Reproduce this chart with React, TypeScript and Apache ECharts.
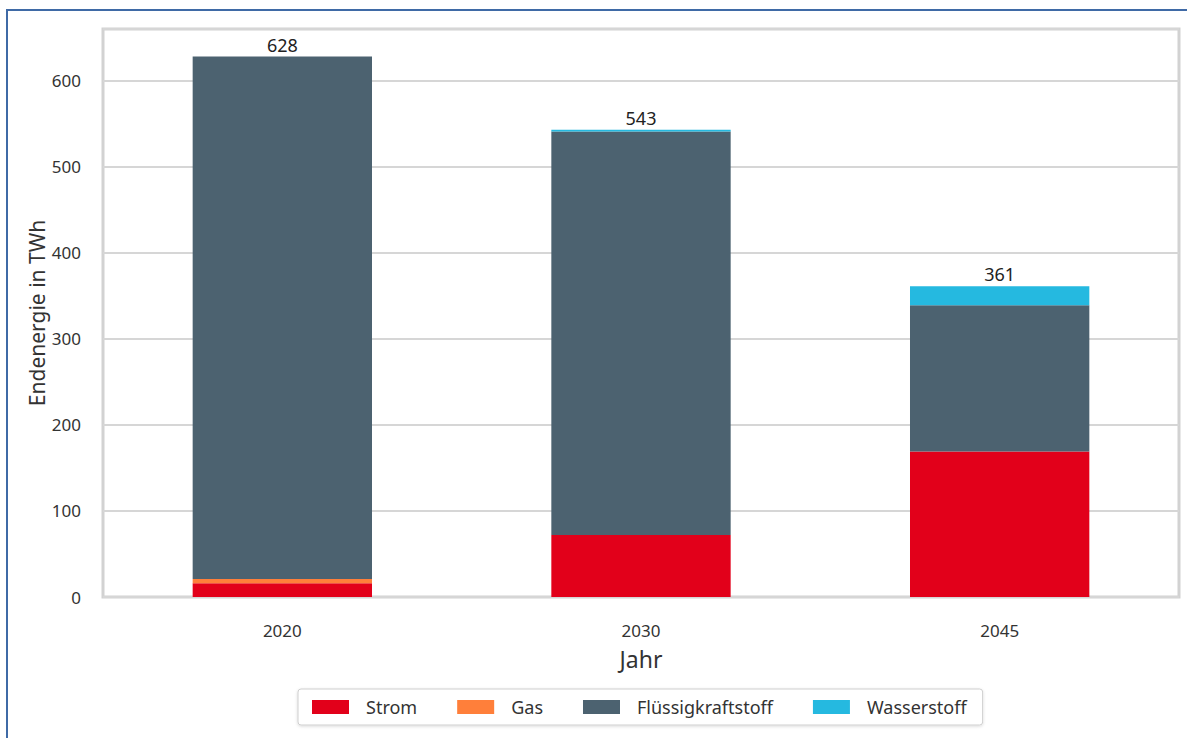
import React, { useEffect, useRef } from "react";
import * as echarts from "echarts";

const categories = ["2020", "2030", "2045"];
const strom = [16, 72, 169];
const gas = [5, 0, 0];
const fluessig = [607, 469, 170];
const wasserstoff = [0, 2, 22];
const totals = [628, 543, 361];
const yTicks = [0, 100, 200, 300, 400, 500, 600];

const FONT = "'Noto Sans', sans-serif";

export default function App() {
  const ref = useRef<HTMLDivElement>(null);
  useEffect(() => {
    if (!ref.current) return;
    const chart = echarts.init(ref.current, null, { renderer: "svg" });
    const barW = "50%";
    chart.setOption({
      animation: false,
      backgroundColor: "#ffffff",
      textStyle: { fontFamily: FONT },
      graphic: [
        {
          type: "rect",
          shape: { x: 7, y: 10, width: 1240, height: 800 },
          style: { fill: "none", stroke: "#3f6aa6", lineWidth: 2 },
          silent: true,
          z: -1,
        },
      ],
      grid: { left: 103, right: 8, top: 29, bottom: 141, show: true, borderColor: "#d2d2d2", borderWidth: 3 },
      legend: {
        left: 298,
        top: 689,
        itemWidth: 37,
        itemHeight: 14,
        itemGap: 40,
        padding: [9, 16, 9, 14],
        borderColor: "#cfcfcf",
        borderWidth: 1,
        borderRadius: 3,
        shadowColor: "rgba(0,0,0,0.15)",
        shadowBlur: 3,
        shadowOffsetY: 1,
        backgroundColor: "#fff",
        icon: "rect",
        textStyle: { fontSize: 18, color: "#333", fontFamily: FONT, padding: [0, 0, 0, 12] },
        data: ["Strom", "Gas", "Flüssigkraftstoff", "Wasserstoff"],
      },
      xAxis: {
        type: "category",
        data: categories,
        name: "Jahr",
        nameLocation: "middle",
        nameGap: 50,
        nameTextStyle: { fontSize: 23, color: "#333", fontFamily: FONT },
        axisLine: { show: false },
        axisTick: { show: false },
        axisLabel: { fontSize: 17, color: "#333", margin: 25, fontFamily: FONT },
      },
      yAxis: {
        type: "value",
        min: 0,
        max: 660,
        interval: 100,
        name: "Endenergie in TWh",
        nameLocation: "middle",
        nameGap: 56,
        nameMoveOverlap: false,
        nameTextStyle: { fontSize: 21, color: "#333", fontFamily: FONT },
        axisLine: { show: false },
        axisTick: { show: false },
        axisLabel: {
          fontSize: 17,
          color: "#333",
          margin: 22,
          fontFamily: FONT,
          showMaxLabel: false,
          formatter: (v: number) => (yTicks.includes(v) ? String(v) : ""),
        },
        splitLine: { lineStyle: { color: "#d6d6d6", width: 2 } },
      },
      series: [
        { name: "Strom", type: "bar", stack: "t", data: strom, barWidth: barW, itemStyle: { color: "#e2001a" } },
        { name: "Gas", type: "bar", stack: "t", data: gas, barWidth: barW, itemStyle: { color: "#ff7f3a" } },
        { name: "Flüssigkraftstoff", type: "bar", stack: "t", data: fluessig, barWidth: barW, itemStyle: { color: "#4c6270" } },
        {
          name: "Wasserstoff",
          type: "bar",
          stack: "t",
          data: wasserstoff,
          barWidth: barW,
          itemStyle: { color: "#25b9e0" },
          label: {
            show: true,
            position: "top",
            distance: 3,
            fontSize: 18,
            color: "#222",
            fontFamily: FONT,
            formatter: (p: any) => String(totals[p.dataIndex]),
          },
        },
      ],
    });
    return () => chart.dispose();
  }, []);
  return <div ref={ref} style={{ position: "fixed", left: 0, top: 0, width: 1187, height: 738 }} />;
}
